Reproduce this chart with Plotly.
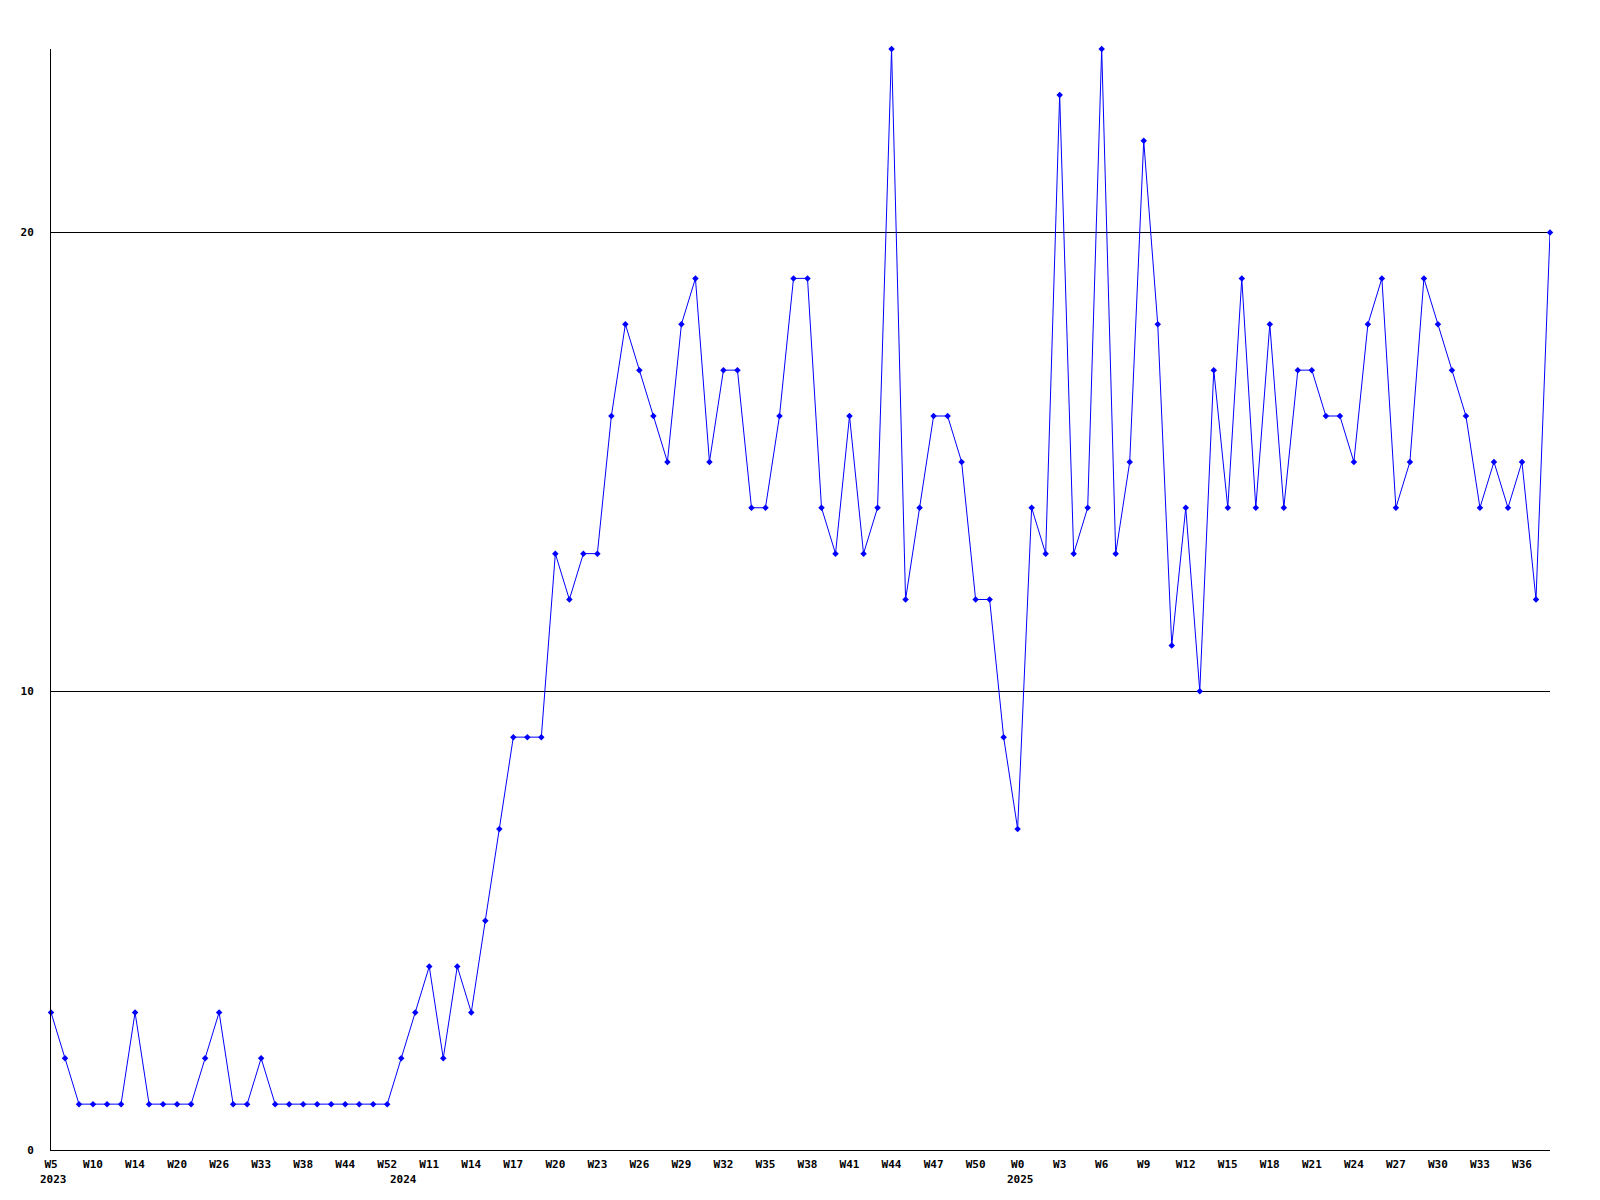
import plotly.graph_objects as go

values = [3, 2, 1, 1, 1, 1, 3, 1, 1, 1, 1, 2, 3, 1, 1, 2, 1, 1, 1, 1, 1, 1, 1, 1, 1,
          2, 3, 4, 2, 4, 3, 5, 7, 9, 9, 9, 13, 12, 13, 13, 16, 18, 17, 16, 15, 18, 19,
          15, 17, 17, 14, 14, 16, 19, 19, 14, 13, 16, 13, 14, 24, 12, 14, 16, 16, 15,
          12, 12, 9, 7, 14, 13, 23, 13, 14, 24, 13, 15, 22, 18, 11, 14, 10, 17, 14,
          19, 14, 18, 14, 17, 17, 16, 16, 15, 18, 19, 14, 15, 19, 18, 17, 16, 14, 15,
          14, 15, 12, 20]

tick_labels = ["W5", "W10", "W14", "W20", "W26", "W33", "W38", "W44", "W52",
               "W11", "W14", "W17", "W20", "W23", "W26", "W29", "W32", "W35",
               "W38", "W41", "W44", "W47", "W50", "W0", "W3", "W6", "W9",
               "W12", "W15", "W18", "W21", "W24", "W27", "W30", "W33", "W36"]

year_labels = ["2023", "2024", "2025"]
year_start_index = [0, 25, 69]

x = list(range(len(values)))
tick_positions = list(range(0, 3 * len(tick_labels), 3))

fig = go.Figure()
fig.add_trace(go.Scatter(
    x=x, y=values, mode="lines+markers",
    line=dict(color="#0000ff", width=1),
    marker=dict(color="#0000ff", size=5, symbol="diamond"),
    cliponaxis=False,
))

font = dict(family="DejaVu Sans Mono", size=11, color="black", weight="bold")

for label, idx in zip(year_labels, year_start_index):
    fig.add_annotation(
        x=idx, y=0, xref="x", yref="paper",
        text=label, showarrow=False,
        xanchor="left", yanchor="top",
        xshift=-13, yshift=-21,
        font=font,
    )

fig.update_layout(
    width=1600, height=1200,
    margin=dict(l=43, r=58, t=41, b=58),
    paper_bgcolor="white", plot_bgcolor="white",
    showlegend=False,
    xaxis=dict(
        range=[0, len(values) - 1],
        tickmode="array", tickvals=tick_positions, ticktext=tick_labels,
        showgrid=False, zeroline=False,
        showline=True, linecolor="black", linewidth=1,
        ticks="", tickfont=font, tickangle=0,
        ticklabelstandoff=4,
    ),
    yaxis=dict(
        range=[0, 24],
        tickmode="array", tickvals=[0, 10, 20], ticktext=["0", "10", "20"],
        showgrid=True, gridcolor="black", gridwidth=1,
        zeroline=False,
        showline=True, linecolor="black", linewidth=1,
        ticks="", tickfont=font,
        ticklabelstandoff=14,
    ),
)

fig.write_html("out.html")
